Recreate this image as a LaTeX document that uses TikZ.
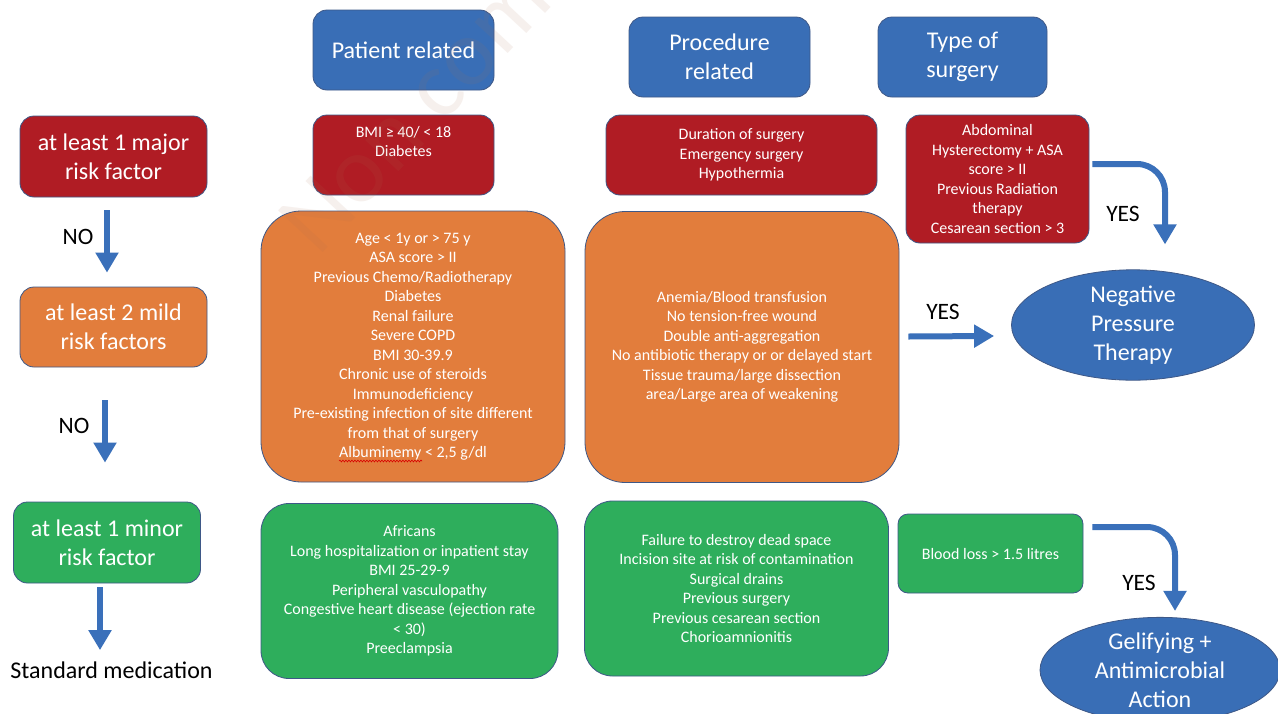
\documentclass[tikz,border=0pt]{standalone}
\usepackage{fontspec}
\setmainfont{Carlito}
\usetikzlibrary{arrows.meta,shapes.geometric,calc,decorations.pathmorphing}
\definecolor{cblue}{RGB}{57,110,182}
\definecolor{cred}{RGB}{176,28,36}
\definecolor{corange}{RGB}{226,125,60}
\definecolor{cgreen}{RGB}{46,174,92}
\definecolor{cline}{RGB}{62,88,135}
\definecolor{carrow}{RGB}{58,112,186}
\definecolor{wmcol}{RGB}{170,110,80}
\newcommand\fsBig{\fontsize{24}{28.8}\selectfont}
\newcommand\fsSmall{\fontsize{16}{19.5}\selectfont}
\newcommand\fsLbl{\fontsize{23.5}{27}\selectfont}
\begin{document}
\begin{tikzpicture}[x=1pt,y=-1pt,
  sz/.style 2 args={minimum width=#1pt, minimum height=#2pt},
  base/.style={draw=cline, line width=0.8pt, text=white, align=center, inner sep=0pt, rounded corners=#1},
  base/.default=14pt,
  hdr/.style={base=14pt, fill=cblue, font=\fsBig},
  redb/.style={base=14pt, fill=cred, font=\fsSmall},
  lbox/.style={base=14pt, font=\fsBig},
  orb/.style={base=40pt, fill=corange, font=\fsSmall},
  grb/.style={base=28pt, fill=cgreen, font=\fsSmall},
  txt/.style={text=white, align=center, inner sep=0pt, font=\fsSmall},
  ell/.style={ellipse, draw=cline, line width=0.8pt, fill=cblue, text=white, align=center, inner sep=0pt, font=\fsBig},
  lbl/.style={text=black, inner sep=0pt, font=\fsLbl},
  barrow/.style={draw=carrow, line width=6pt, -{Triangle[length=20pt 0, width=22pt 0]}}
]
\useasboundingbox (0,0) rectangle (1278,713);
\clip (0,0) rectangle (1278,713);
\fill[white] (0,0) rectangle (1278,713);

% headers
\node[hdr, sz={181}{80}] (hpat) at (403.5,50) {Patient related};
\node[hdr, sz={181}{80}] (hproc) at (719.5,57) {Procedure\\related};
\node[hdr, sz={169}{80}] (htype) at (962.5,57) {Type of\\surgery};

% major row
\node[lbox, fill=cred, sz={187}{81}] (major) at (113.5,156.5) {at least 1 major\\risk factor};
\node[redb, sz={181}{80}] (rpat) at (403.5,155) {};
\node[txt] (rpatT) at (403.5,141.5) {BMI ≥ 40/ < 18\\Diabetes};
\node[redb, sz={271}{80}] (rproc) at (741.5,155) {Duration of surgery\\Emergency surgery\\Hypothermia};
\node[redb, sz={183}{128}] (rtype) at (997.5,179) {Abdominal\\Hysterectomy + ASA\\score > II\\Previous Radiation\\therapy\\Cesarean section > 3};

% mild row
\node[lbox, fill=corange, sz={187}{80}] (mild) at (113.5,327) {at least 2 mild\\risk factors};
\node[orb, sz={304}{271}] (opat) at (413,346.5) {Age < 1y or > 75 y\\ASA score > II\\Previous Chemo/Radiotherapy\\Diabetes\\Renal failure\\Severe COPD\\BMI 30-39.9\\Chronic use of steroids\\Immunodeficiency\\Pre-existing infection of site different\\from that of surgery\\Albuminemy < 2,5 g/dl};
\draw[red!85!black, line width=0.6pt, decorate, decoration={snake, amplitude=0.9pt, segment length=3pt}] (339,461) -- (422,461);
\node[orb, sz={314}{271}] (oproc) at (742,347) {Anemia/Blood transfusion\\No tension-free wound\\Double anti-aggregation\\No antibiotic therapy or or delayed start\\Tissue trauma/large dissection\\area/Large area of weakening};

% minor row
\node[lbox, fill=cgreen, sz={187}{81}] (lgreen) at (107,542.5) {at least 1 minor\\risk factor};
\node[grb, sz={297}{175}] (gpat) at (409.5,591) {Africans\\Long hospitalization or inpatient stay\\BMI 25-29-9\\Peripheral vasculopathy\\Congestive heart disease (ejection rate\\< 30)\\Preeclampsia};
\node[grb, sz={304}{175}] (gproc) at (736.5,588.5) {Failure to destroy dead space\\Incision site at risk of contamination\\Surgical drains\\Previous surgery\\Previous cesarean section\\Chorioamnionitis};
\node[grb, rounded corners=10pt, sz={185}{79}] (gblood) at (990.5,553.5) {Blood loss > 1.5 litres};

% outcomes
\node[ell, minimum width=243pt, minimum height=88pt] (npt) at (1133,325) {Negative\\Pressure\\Therapy};
\node[ell, minimum width=240pt, minimum height=94pt] (gel) at (1160,670) {Gelifying +\\Antimicrobial\\Action};
\node[lbl, font=\fsBig, anchor=base] (std) at (111.5,678) {Standard medication};

% labels
\node[lbl] (no1) at (78,237) {NO};
\node[lbl] (no2) at (74,426) {NO};
\node[lbl] (yes1) at (943,312) {YES};
\node[lbl] (yes2) at (1123,214) {YES};
\node[lbl] (yes3) at (1139,583) {YES};

% arrows
\draw[barrow, shorten <=13pt, shorten >=14pt] ([xshift=-6.5pt]major.south) -- ([xshift=-6.5pt]mild.north);
\draw[barrow, shorten <=33pt, shorten >=39pt] ([xshift=-8.5pt]mild.south) -- ([xshift=-2pt]lgreen.north);
\draw[barrow, shorten <=4pt, shorten >=11pt] ([xshift=-7pt]lgreen.south) -- ([xshift=-11.5pt]std.north);
\draw[barrow] ([xshift=9pt,yshift=10.5pt]oproc.east) -- ([xshift=-17pt,yshift=-11pt]npt.west);
\draw[barrow, rounded corners=28pt] ([xshift=3pt,yshift=15pt]rtype.east) -| ([xshift=32pt,yshift=25pt]npt.north);
\draw[barrow, rounded corners=28pt] ([xshift=9pt,yshift=26.5pt]gblood.east) -| ([xshift=15pt,yshift=6pt]gel.north);

% watermark
\node[rotate=47, anchor=base west, inner sep=0pt, text=wmcol, opacity=0.1, font=\fontsize{95}{95}\selectfont] (wmark) at (318,258) {Non commercial};
\end{tikzpicture}
\end{document}
